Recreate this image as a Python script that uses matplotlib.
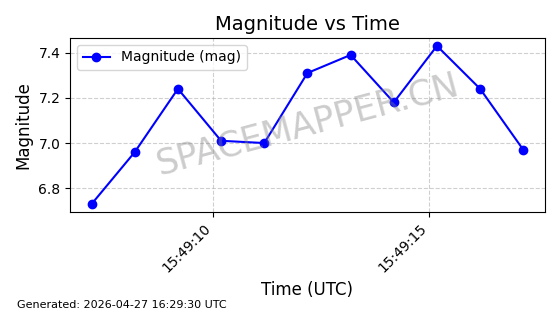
import matplotlib
matplotlib.use("Agg")
import matplotlib.pyplot as plt
import matplotlib.dates as mdates
import pandas as pd

# observation times (UTC) and magnitudes
times = pd.date_range("2026-04-27 15:49:07.180", periods=11, freq="1s")
magnitudes = [6.73, 6.96, 7.24, 7.01, 7.00, 7.31, 7.39, 7.18, 7.43, 7.24, 6.97]

fig, ax = plt.subplots(figsize=(5.6, 3.14), dpi=100)

ax.plot(times, magnitudes, color="blue", marker="o", markersize=6, label="Magnitude (mag)")
ax.set_title("Magnitude vs Time", fontsize=14)
ax.set_xlabel("Time (UTC)", fontsize=12)
ax.set_ylabel("Magnitude", fontsize=12)
ax.grid(True, linestyle="--", alpha=0.6)
ax.legend(loc="upper left")

ax.xaxis.set_major_locator(mdates.SecondLocator(bysecond=range(0, 60, 5)))
ax.xaxis.set_major_formatter(mdates.DateFormatter("%H:%M:%S"))
plt.setp(ax.get_xticklabels(), rotation=45, ha="right")

ax.text(0.5, 0.5, "SPACEMAPPER.CN", transform=ax.transAxes, fontsize=25,
        color="gray", alpha=0.4, rotation=15, ha="center", va="center")

fig.text(0.03, 0.02, "Generated: 2026-04-27 16:29:30 UTC", fontsize=8)

fig.subplots_adjust(left=0.125, right=0.973, top=0.879, bottom=0.325)
fig.savefig("out.png", dpi=100)
